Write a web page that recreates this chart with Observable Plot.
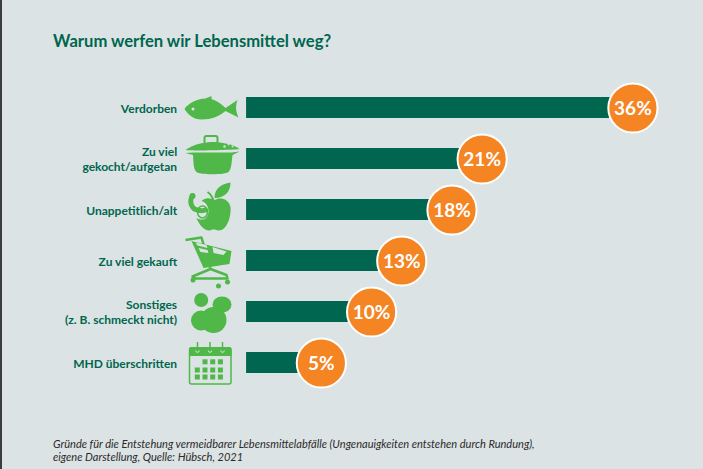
<!DOCTYPE html>
<html lang="de"><head><meta charset="utf-8">
<script src="https://cdn.jsdelivr.net/npm/d3@7"></script>
<script src="https://cdn.jsdelivr.net/npm/@observablehq/plot@0.6"></script>
<style>
html,body{margin:0;padding:0;background:#dce3e4;width:703px;height:469px;overflow:hidden}
body{position:relative;font-family:Lato,sans-serif}
#edge{position:absolute;left:0;top:0;width:2px;height:469px;background:#3c3c3c}
#title{position:absolute;left:53px;top:30px;font-size:16.6px;font-weight:700;color:#00664f;line-height:22px;white-space:nowrap}
#chart{position:absolute;left:0;top:81px}
#chart svg{display:block}
#caption{position:absolute;left:53px;top:437px;font-size:11.05px;font-style:italic;color:#2a2a2a;line-height:13.4px;white-space:nowrap}
</style></head>
<body>
<div id="edge"></div>
<div id="title">Warum werfen wir Lebensmittel weg?</div>
<div id="chart"></div>
<div id="caption">Gründe für die Entstehung vermeidbarer Lebensmittelabfälle (Ungenauigkeiten entstehen durch Rundung),<br>eigene Darstellung, Quelle: Hübsch, 2021</div>
<script>
const categories = ["Verdorben","Zu viel\ngekocht/aufgetan","Unappetitlich/alt","Zu viel gekauft","Sonstiges\n(z. B. schmeckt nicht)","MHD überschritten"];
const values = [36,21,18,13,10,5];
const G = "#4fb848", BG = "#dce3e4";
const fish = `<path fill="${G}" d="M3 31C7 25 15 21 24 20.5L30 18L30 21C36 23 40 26 44 30L56 22C54 27 54 33 57 39.500L44 33C38 38 30 41.500 20 41.500C12 41.500 7 37 3 31Z"/><circle cx="11.500" cy="31" r="1.500" fill="${BG}"/>`;
const pot = `<path fill="none" stroke="${G}" stroke-width="2" d="M23 14V9Q23 7 25 7H34Q36 7 36 9V14"/><path fill="${G}" d="M4 21C12 15 24 13 31 13C40 13 51 15 58 20C50 21 14 22 4 21Z"/><path fill="${G}" d="M4 24L12 23.500H50L58 22.500L51 26C50 34 50 40 47 43C44 46 18 46 15 43C12 40 12 34 11.500 26Z"/><circle cx="43" cy="17.500" r="1.200" fill="${BG}"/><circle cx="47" cy="15.500" r=".9" fill="${BG}"/><circle cx="51" cy="17.500" r=".9" fill="${BG}"/>`;
const apple = `<path fill="${G}" d="M33 20C38 17 47 18 49 27C50 37 45 51 37 50.500C34 50 32 49 30 50C24 52 18 46 15 38C22 42 27 38 27 31C27 26 24 22 20 21C24 17 29 18 33 20Z"/><path fill="none" stroke="${G}" stroke-width="2" d="M26 12C29 14 31 17 32 21"/><path fill="${G}" d="M33 18C33 9 39 4 49 2.500C49 11 44 18 33 18Z"/><path fill="none" stroke="${G}" stroke-width="5" stroke-linecap="round" stroke-dasharray="4 1" d="M11 16C8 20 9 26 13 29C17 31 21 31 24 30"/><circle cx="11" cy="16" r="3" fill="${G}"/><ellipse cx="21" cy="32" rx="5" ry="6" fill="none" stroke="${G}" stroke-width="1.500"/>`;
const cart = `<path fill="none" stroke="${G}" stroke-width="2.500" stroke-linejoin="round" d="M4 9L20 6.500L29 38L11 45.500L13 47.500H46L45 44L29 38"/><path fill="${G}" d="M10 10L50 20L48 33L22 37L18 28Z"/><path fill="${BG}" d="M14 11.500L25 14L26 17L16 14.500ZM31 16L45 20.500L42 24L32 22ZM17 17L26 19L27 22L19 21Z"/><circle cx="11.500" cy="49" r="2.500" fill="${G}"/><circle cx="37" cy="55" r="2.500" fill="${G}"/><circle cx="46" cy="51" r="2.500" fill="${G}"/>`;
const blobs = `<g fill="${G}"><circle cx="19.700" cy="18" r="7"/><ellipse cx="40.500" cy="22.500" rx="9.500" ry="8"/><ellipse cx="32" cy="38" rx="13" ry="13"/><ellipse cx="19.500" cy="38.500" rx="10" ry="10"/><path d="M24 30L42 26L38 36L24 38Z"/></g>`;
const cells = [[13.300,34.500],[21,34.500],[28.700,34.500],[36.400,34.500],[13.300,41.500],[21,41.500],[28.700,41.500],[36.400,41.500],[21,26.300],[28.700,26.300],[36.400,26.300]];
const calendar = `<rect x="8" y="15" width="41.500" height="36" rx="2" fill="none" stroke="${G}" stroke-width="1.500"/><path fill="${G}" d="M7.500 16Q7.500 14 9.500 14H48Q50 14 50 16V23H7.500Z"/><path stroke="${G}" stroke-width="1.500" d="M16 9V17M28.500 9V17M41 9V17"/>` + ["16","28.500","41"].map(c=>`<path fill="none" stroke="${BG}" stroke-width="1" d="M${+c-1.800} 17.500A1.800 1.800 0 0 0 ${+c+1.800} 17.500"/>`).join("") + cells.map(([x,y])=>`<rect x="${x}" y="${y}" width="5" height="5" fill="${G}"/>`).join("");
const iconBodies = [fish,pot,apple,cart,blobs,calendar];
const iconUri = b => "data:image/svg+xml;utf8," + encodeURIComponent(`<svg xmlns="http://www.w3.org/2000/svg" viewBox="0 0 60 60" width="60" height="60">${b}</svg>`);

const rows = categories.map((c,i)=>({c,v:values[i],icon:iconUri(iconBodies[i])}));
const barBase = -2.44, iconX = -5.93, labelX = -9.35;

const plot = Plot.plot({
  width:703, height:310, margin:0,
  style:{background:"transparent"},
  x:{domain:[0,36],range:[270.6,632.4],axis:null},
  y:{domain:categories,range:[0,306.6],paddingInner:0.597,paddingOuter:0.2985,align:0.5,axis:null},
  marks:[
    Plot.barX(rows,{y:"c",x1:()=>barBase,x2:"v",fill:"#00664f"}),
    Plot.dot(rows,{y:"c",x:"v",r:24.6,fill:"#f58423",stroke:"#fff",strokeWidth:2}),
    Plot.text(rows,{y:"c",x:"v",text:d=>d.v+"%",fill:"#fff",fontSize:19,fontWeight:700,fontFamily:"Lato,sans-serif",dy:0.5}),
    Plot.image(rows,{y:"c",x:()=>iconX,src:"icon",width:60,height:60}),
    Plot.text(rows,{y:"c",x:()=>labelX,text:"c",textAnchor:"end",fill:"#00664f",fontSize:12,fontWeight:700,fontFamily:"Lato,sans-serif",lineHeight:1.27})
  ]
});
document.getElementById("chart").appendChild(plot);
</script>
</body></html>
